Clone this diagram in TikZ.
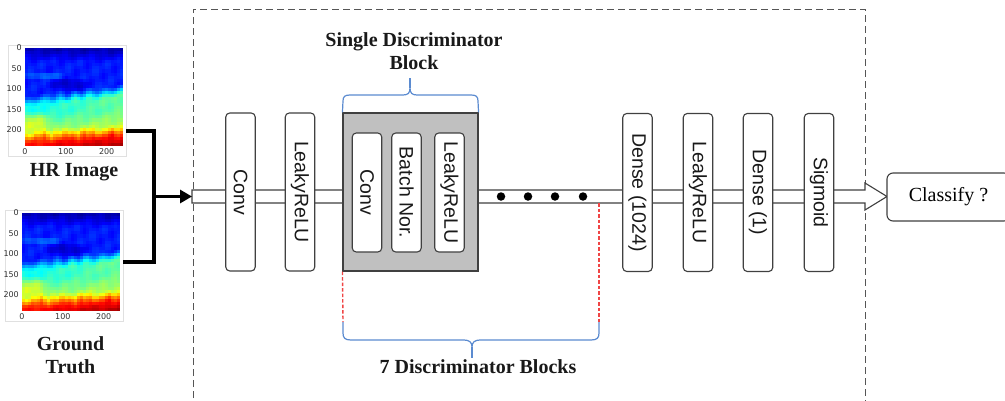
\documentclass[tikz,border=0pt]{standalone}
\usepackage{fontspec}
\setmainfont{Liberation Serif}
\newfontfamily\boxfont{Liberation Sans}
\newfontfamily\tickfont{DejaVu Sans}
\usetikzlibrary{arrows.meta}

\definecolor{edgegray}{HTML}{404040}
\definecolor{blockgray}{HTML}{C0C0C0}
\definecolor{bracecol}{HTML}{5B8BD0}
\definecolor{guidered}{HTML}{F04545}
\definecolor{framegray}{HTML}{E0E0E0}
\definecolor{ticktext}{HTML}{333333}
\definecolor{dashgray}{HTML}{555555}

% jet-coloured field on a 32x32 grid, top-left corner at (#1,#2), 98 units square
\newcommand\drawheat[2]{%
  \foreach \i in {0,...,31}{%
    \foreach \j in {0,...,31}{%
      \pgfmathsetmacro\hx{(\i+0.5)/32}%
      \pgfmathsetmacro\hy{(\j+0.5)/32}%
      \pgfmathsetmacro\ya{\hy+0.12*(\hx-0.5)+0.015*sin(2300*\hx)}%
      \pgfmathsetmacro\yb{\hy+0.012*sin(1500*\hx+200)+0.01*sin(3700*\hx+40)+0.03*(\hx-0.5)}%
      \pgfmathsetmacro\sa{min(max((\hy-0.02)/0.13,0),1)}%
      \pgfmathsetmacro\sb{min(max((\ya-0.42)/0.14,0),1)}%
      \pgfmathsetmacro\sc{min(max((\hy-0.65)/0.2,0),1)}%
      \pgfmathsetmacro\sd{min(max((\yb-0.79)/0.16,0),1)}%
      \pgfmathsetmacro\se{min(max((\hy-0.93)/0.07,0),1)}%
      \pgfmathsetmacro\sb{\sb*\sb*(3-2*\sb)}%
      \pgfmathsetmacro\sd{\sd*\sd*(3-2*\sd)}%
      \pgfmathsetmacro\hv{max(0,min(1,0.05+0.1*\sa+0.23*\sb+0.1*\hx*\sb
        +0.12*\sc+0.3*\sd+0.07*\se
        +0.12*max(0,1-((\hx-0.08)^2/0.05+(\hy-0.76)^2/0.012))
        -0.08*max(0,1-((\hx-0.45)^2/0.06+(\hy-0.37)^2/0.006))
        +0.08*max(0,1-((\hx-0.2)^2/0.06+(\hy-0.28)^2/0.0015))
        +0.025*sin(1900*\hx+700*\hy)*sin(1300*\hy-800*\hx)))}%
      \pgfmathsetmacro\hr{min(max(1.5-abs(4*\hv-3),0),1)}%
      \pgfmathsetmacro\hg{min(max(1.5-abs(4*\hv-2),0),1)}%
      \pgfmathsetmacro\hb{min(max(1.5-abs(4*\hv-1),0),1)}%
      \definecolor{hcell}{rgb}{\hr,\hg,\hb}%
      \fill[hcell] (#1+\i*98/32,#2+\j*98/32) rectangle ++(98/32+0.3,98/32+0.3);
    }%
  }%
  \foreach \t/\p in {0/0,50/20.4,100/40.8,150/61.2,200/81.7}{%
    \node[ticklabel,anchor=east] at (#1-2,#2+\p) {\t};
  }%
  \foreach \t/\p in {0/0,100/40.8,200/81.7}{%
    \node[ticklabel] at (#1+\p,#2+104) {\t};
  }%
}

\tikzset{
  layer/.style={draw=edgegray, fill=white, rounded corners=4pt, line width=1.1pt,
    rotate=-90, inner sep=0pt, text=black!90,
    font=\boxfont\fontsize{19.5}{21}\selectfont},
  outerlayer/.style={layer, minimum width=158pt, minimum height=29.5pt},
  innerlayer/.style={layer, minimum width=119pt, minimum height=29.5pt},
  ticklabel/.style={font=\tickfont\fontsize{8}{9}\selectfont, text=ticktext, inner sep=1pt},
  title/.style={font=\bfseries\fontsize{20}{23}\selectfont, align=center, text=black!90},
  imgframe/.style={draw=framegray, line width=0.8pt, fill=white, inner sep=0pt},
  feed/.style={line width=3.6pt, line join=miter},
  bracepath/.style={draw=bracecol, line width=1.2pt},
  guide/.style={draw=guidered, line width=1.4pt, dash pattern=on 3.5pt off 2pt},
  dot/.style={circle, fill=black, inner sep=0pt, minimum size=8.5pt},
}

\begin{document}
\begin{tikzpicture}[x=1pt,y=-1pt]
\useasboundingbox (0,0) rectangle (1005,400);
\clip (0,0) rectangle (1005,400);
\fill[white] (0,0) rectangle (1005,400);

% input maps
\node[imgframe, minimum width=118pt, minimum height=111pt] (hr) at (67,100.5) {};
\node[imgframe, minimum width=118pt, minimum height=111pt] (gt) at (64,265.5) {};
\drawheat{25}{48}
\drawheat{22}{213}
\node[title] (hrlabel) at (74,172) {HR Image};
\node[title] (gtlabel) at (70.5,355) {Ground\\Truth};

% discriminator frame
\draw[dashgray, line width=1pt, dash pattern=on 7pt off 4pt]
  (193,420) -- (193,9) -- (865,9) -- (865,420);

% data pipe with open arrow head
\draw[edgegray, fill=white, line width=1.1pt, line join=miter]
  (192,190) -- (865,190) -- (865,183) -- (887,196.5) -- (865,210) -- (865,203) -- (192,203) -- cycle;
\coordinate (pin) at (192,196.5);

% merge of the two inputs
\coordinate (hrout) at (126,131);
\coordinate (gtout) at (123,262);
\coordinate (join) at (154,196.5);
\draw[feed] (hrout) -| (join);
\draw[feed] (gtout) -| (join);
\draw[feed, -{Triangle[length=12pt,width=13pt]}] (join) -- (pin);

% leading layers
\node[outerlayer] (conv1) at (240.5,192) {Conv};
\node[outerlayer] (lrelu1) at (300,192) {LeakyReLU};

% single discriminator block
\node[draw=edgegray, fill=blockgray, line width=1.1pt, minimum width=135pt, minimum height=158pt, inner sep=0pt] (block) at (410.5,192) {};
\node[innerlayer] (bconv) at (367,192.5) {Conv};
\node[innerlayer] (bnorm) at (406.5,192.5) {Batch Nor.};
\node[innerlayer] (brelu) at (449.5,192.5) {LeakyReLU};

% repeated blocks
\node[dot] (d1) at (501,196.5) {};
\node[dot] (d2) at (528,196.5) {};
\node[dot] (d3) at (555,196.5) {};
\node[dot] (d4) at (583,196.5) {};

% head layers
\node[outerlayer] (dense1) at (637.5,192.5) {Dense (1024)};
\node[outerlayer] (lrelu2) at (698,192.5) {LeakyReLU};
\node[outerlayer] (dense2) at (758,192.5) {Dense (1)};
\node[outerlayer] (sigm) at (819,192.5) {Sigmoid};

% output
\node[draw=edgegray, fill=white, line width=1.1pt, rounded corners=6pt,
  minimum width=123pt, minimum height=48pt, inner sep=0pt,
  font=\fontsize{20}{22}\selectfont] (cls) at (948.5,197) {Classify ?};

% brace over one block
\node[title] (single) at (414,51.5) {Single Discriminator\\Block};
\draw[bracepath] (block.north west) -- (343,101) .. controls (343,96.5) and (345,95) .. (350,95)
  -- (403,95) .. controls (408,95) and (410,93) .. (410,88)
  .. controls (410,93) and (412,95) .. (417,95) -- (471,95)
  .. controls (476,95) and (478,96.5) .. (478,101) -- (block.north east);
\draw[bracepath] (410,88) -- (410,78);

% span of the seven blocks
\coordinate (spanl) at (343,322);
\coordinate (spanr) at (599,322);
\coordinate (pipeend) at (599,203);
\draw[guide] (block.south west) -- (spanl);
\draw[guide] (pipeend) -- (spanr);
\draw[bracepath] (spanl) -- (343,333) .. controls (343,338) and (345,340) .. (351,340)
  -- (464,340) .. controls (469,340) and (472,342) .. (472,347)
  .. controls (472,342) and (475,340) .. (480,340) -- (591,340)
  .. controls (597,340) and (599,338) .. (599,333) -- (spanr);
\draw[bracepath] (472,347) -- (472,358);
\node[title] (seven) at (478,367) {7 Discriminator Blocks};
\end{tikzpicture}
\end{document}
